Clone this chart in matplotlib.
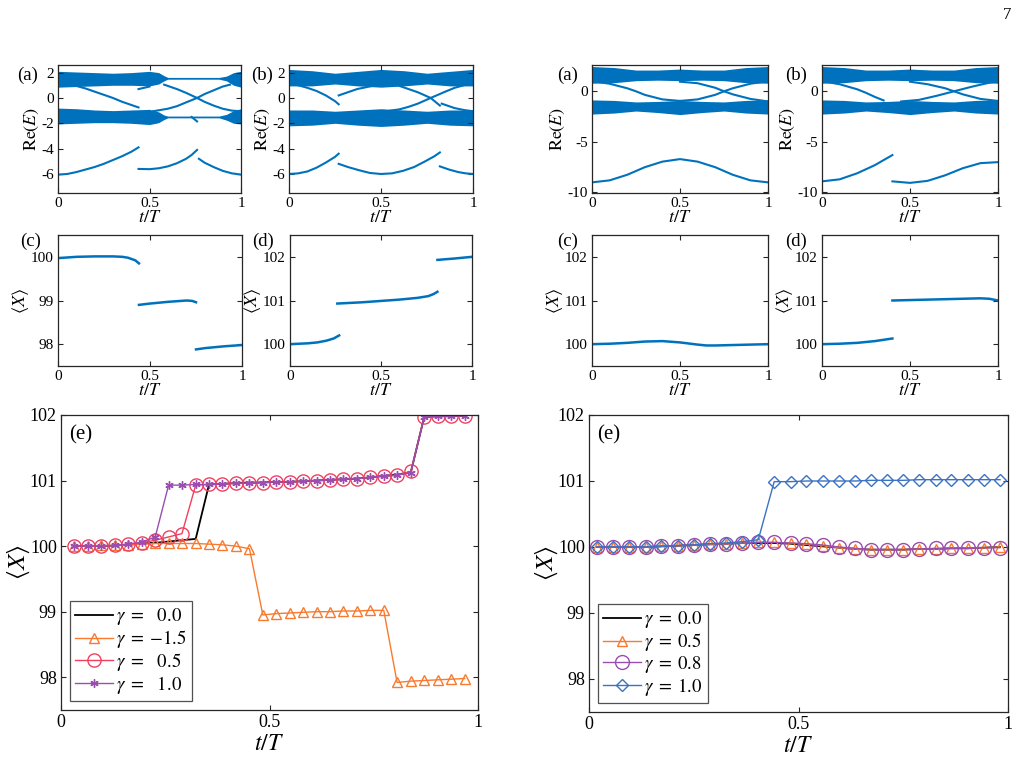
import numpy as np
import matplotlib
matplotlib.use('Agg')
import matplotlib.pyplot as plt

plt.rcParams['font.family'] = 'serif'
plt.rcParams['font.serif'] = ['Liberation Serif', 'DejaVu Serif']
plt.rcParams['mathtext.fontset'] = 'stix'
plt.rcParams['axes.unicode_minus'] = False
plt.rcParams['axes.edgecolor'] = '#262626'

W, H = 1026, 769
BLUE = '#0072BD'

# ---------------- left column, Re(E) (a) ----------------
la_t = [0, 0.1, 0.2, 0.3, 0.4, 0.5, 0.55, 0.58, 0.6, 0.7, 0.8, 0.88, 0.92, 0.96, 1.0]
la_up_top = [2.1, 2.05, 2.0, 1.95, 2.0, 2.1, 2.0, 1.75, 1.62, 1.62, 1.62, 1.62, 1.72, 2.0, 2.1]
la_up_bot = [0.85, 0.9, 0.95, 1.0, 1.0, 0.95, 1.1, 1.35, 1.48, 1.48, 1.48, 1.48, 1.35, 1.0, 0.85]
la_lo_top = [-0.8, -0.85, -0.95, -1.0, -0.95, -0.9, -1.1, -1.35, -1.43, -1.43, -1.43, -1.43, -1.3, -1.0, -0.85]
la_lo_bot = [-2.05, -2.0, -1.95, -1.95, -2.0, -2.1, -1.95, -1.7, -1.57, -1.57, -1.57, -1.57, -1.75, -2.0, -2.05]
la_curves = [
    ([0.1, 0.15, 0.2, 0.25, 0.3, 0.35, 0.4, 0.44], [0.95, 0.75, 0.5, 0.25, 0.0, -0.3, -0.55, -0.75]),
    ([0.44, 0.47, 0.5], [0.7, 0.8, 0.9]),
    ([0.52, 0.6, 0.65, 0.7, 0.76, 0.8, 0.85, 0.9, 0.94], [-1.05, -0.85, -0.65, -0.35, 0.0, 0.3, 0.6, 0.9, 1.05]),
    ([0.58, 0.65, 0.7, 0.76, 0.8, 0.85, 0.9, 0.95, 1.0], [1.05, 0.7, 0.4, 0.0, -0.3, -0.6, -0.85, -1.0, -1.05]),
    ([0.73, 0.76], [-1.5, -1.85]),
    ([0, 0.05, 0.1, 0.15, 0.2, 0.25, 0.3, 0.35, 0.4, 0.44], [-6.05, -6.0, -5.85, -5.65, -5.45, -5.2, -4.9, -4.6, -4.25, -3.9]),
    ([0.44, 0.5, 0.55, 0.6, 0.65, 0.7, 0.73, 0.76], [-5.6, -5.62, -5.55, -5.4, -5.15, -4.8, -4.5, -4.1]),
    ([0.77, 0.8, 0.85, 0.9, 0.95, 1.0], [-4.8, -5.1, -5.45, -5.75, -5.95, -6.05]),
]

# ---------------- left column, Re(E) (b) ----------------
lb_t = [0, 0.125, 0.25, 0.375, 0.5, 0.625, 0.75, 0.875, 1.0]
lb_up_top = [2.25, 2.15, 1.95, 2.1, 2.25, 2.15, 1.95, 2.1, 2.25]
lb_up_bot = [0.95, 0.95, 1.1, 0.95, 0.85, 0.95, 1.1, 0.95, 0.95]
lb_lo_top = [-0.95, -0.95, -1.05, -0.95, -0.85, -0.95, -1.05, -0.95, -0.95]
lb_lo_bot = [-2.2, -2.15, -2.0, -2.15, -2.25, -2.15, -2.0, -2.15, -2.2]
lb_curves = [
    ([0.05, 0.1, 0.15, 0.2, 0.25, 0.27], [1.0, 0.8, 0.55, 0.2, -0.25, -0.5]),
    ([0.27, 0.32, 0.37, 0.42, 0.47], [0.2, 0.45, 0.7, 0.85, 1.0]),
    ([0.55, 0.6, 0.65, 0.7, 0.77, 0.85, 0.9, 0.95], [-1.0, -0.9, -0.7, -0.45, 0.0, 0.5, 0.8, 1.0]),
    ([0.6, 0.65, 0.7, 0.77, 0.82], [0.95, 0.7, 0.45, 0.0, -0.6]),
    ([0.83, 0.9, 0.95, 1.0], [-0.45, -0.8, -0.95, -1.05]),
    ([0, 0.05, 0.1, 0.15, 0.2, 0.25, 0.27], [-6.0, -5.95, -5.8, -5.5, -5.1, -4.65, -4.4]),
    ([0.27, 0.32, 0.38, 0.44, 0.5, 0.56, 0.62, 0.68, 0.74, 0.79, 0.82], [-5.2, -5.45, -5.7, -5.92, -6.0, -5.95, -5.75, -5.45, -5.0, -4.6, -4.3]),
    ([0.82, 0.87, 0.92, 0.96, 1.0], [-5.4, -5.65, -5.85, -5.95, -6.0]),
]

# ---------------- right column, Re(E) (a) and (b) ----------------
r_t = [0, 0.125, 0.25, 0.375, 0.5, 0.625, 0.75, 0.875, 1.0]
r_up_top = [2.45, 2.35, 2.1, 2.1, 2.2, 2.1, 2.1, 2.35, 2.45]
r_up_bot = [0.8, 0.85, 1.05, 1.1, 1.05, 1.1, 1.05, 0.85, 0.8]
r_lo_top = [-0.85, -0.9, -1.05, -1.0, -0.9, -1.0, -1.05, -0.9, -0.85]
r_lo_bot = [-2.25, -2.15, -1.95, -2.1, -2.3, -2.1, -1.95, -2.15, -2.25]
ra_curves = [
    ([0, 0.1, 0.2, 0.25, 0.3, 0.4, 0.5], [1.0, 0.75, 0.3, 0.0, -0.35, -0.8, -0.95]),
    ([0.5, 0.6, 0.7, 0.75, 0.8, 0.9, 1.0], [-0.95, -0.8, -0.35, 0.0, 0.3, 0.75, 1.0]),
    ([0.5, 0.6, 0.7, 0.75, 0.8, 0.9, 1.0], [0.95, 0.8, 0.35, 0.0, -0.3, -0.75, -1.0]),
    ([0, 0.1, 0.2, 0.3, 0.4, 0.5, 0.6, 0.7, 0.8, 0.9, 1.0], [-9.0, -8.8, -8.25, -7.5, -6.95, -6.7, -6.95, -7.5, -8.25, -8.8, -9.0]),
]
rb_curves = [
    ([0, 0.1, 0.2, 0.25, 0.3, 0.35], [1.0, 0.7, 0.2, -0.15, -0.55, -0.9]),
    ([0.45, 0.55, 0.65, 0.75, 0.85, 0.95, 1.0], [-1.0, -0.85, -0.45, 0.0, 0.45, 0.85, 1.0]),
    ([0.5, 0.6, 0.7, 0.75, 0.8, 0.9, 1.0], [0.95, 0.7, 0.3, 0.0, -0.3, -0.75, -0.95]),
    ([0, 0.1, 0.2, 0.3, 0.4], [-8.9, -8.7, -8.1, -7.3, -6.3]),
    ([0.4, 0.5, 0.6, 0.7, 0.8, 0.9, 1.0], [-8.9, -9.05, -8.85, -8.3, -7.6, -7.1, -7.0]),
]

# ---------------- <X> panels (c), (d) ----------------
lc_segs = [
    ([0, 0.1, 0.2, 0.3, 0.35, 0.38, 0.42, 0.44], [99.97, 100.0, 100.01, 100.01, 100.0, 99.98, 99.92, 99.85]),
    ([0.44, 0.5, 0.6, 0.7, 0.73, 0.75], [98.9, 98.93, 98.97, 99.0, 98.99, 98.96]),
    ([0.75, 0.8, 0.9, 1.0], [97.88, 97.91, 97.95, 97.98]),
]
ld_segs = [
    ([0, 0.1, 0.15, 0.2, 0.24, 0.27], [100.0, 100.02, 100.04, 100.08, 100.13, 100.2]),
    ([0.26, 0.4, 0.5, 0.6, 0.7, 0.76, 0.79, 0.81], [100.93, 100.96, 100.99, 101.02, 101.06, 101.1, 101.15, 101.2]),
    ([0.81, 0.9, 1.0], [101.93, 101.96, 102.0]),
]
rc_segs = [
    ([0, 0.1, 0.2, 0.3, 0.4, 0.5, 0.6, 0.65, 0.7, 0.8, 0.9, 1.0],
     [100.0, 100.01, 100.03, 100.06, 100.07, 100.04, 99.99, 99.97, 99.97, 99.98, 99.99, 100.0]),
]
rd_segs = [
    ([0, 0.1, 0.2, 0.3, 0.4], [100.0, 100.01, 100.03, 100.07, 100.13]),
    ([0.4, 0.5, 0.6, 0.7, 0.8, 0.9, 0.95, 1.0], [101.0, 101.01, 101.02, 101.03, 101.04, 101.05, 101.04, 101.0]),
]

# ---------------- (e) left ----------------
te_left = [0.032, 0.065, 0.097, 0.129, 0.161, 0.194, 0.226, 0.258, 0.290, 0.323,
           0.355, 0.387, 0.419, 0.452, 0.484, 0.516, 0.548, 0.581, 0.613, 0.645,
           0.677, 0.710, 0.742, 0.774, 0.806, 0.839, 0.871, 0.903, 0.935, 0.968]
xl_g00 = [100.0, 100.0, 100.0, 100.01, 100.02, 100.04, 100.05, 100.07, 100.09, 100.11,
          100.94, 100.95, 100.96, 100.97, 100.97, 100.98, 100.98, 100.99, 101.0, 101.01,
          101.02, 101.03, 101.05, 101.07, 101.09, 101.13, 101.97, 101.98, 101.98, 101.99]
xl_gm15 = [100.0, 100.0, 100.01, 100.01, 100.02, 100.03, 100.04, 100.04, 100.04, 100.04,
           100.03, 100.02, 100.0, 99.96, 98.95, 98.97, 98.98, 98.99, 99.0, 99.0,
           99.01, 99.01, 99.02, 99.02, 97.92, 97.94, 97.95, 97.96, 97.97, 97.98]
xl_g05 = [100.0, 100.0, 100.0, 100.01, 100.03, 100.05, 100.09, 100.14, 100.19, 100.93,
          100.94, 100.95, 100.96, 100.96, 100.97, 100.98, 100.98, 100.99, 101.0, 101.01,
          101.02, 101.03, 101.05, 101.07, 101.08, 101.14, 101.97, 101.98, 101.98, 101.99]
xl_g10 = [100.0, 100.0, 100.0, 100.01, 100.03, 100.06, 100.14, 100.93, 100.93, 100.94,
          100.94, 100.95, 100.96, 100.96, 100.97, 100.98, 100.98, 100.99, 101.0, 101.01,
          101.02, 101.03, 101.05, 101.07, 101.08, 101.12, 101.97, 101.98, 101.98, 101.99]

# ---------------- (e) right ----------------
te_right = [0.019, 0.058, 0.096, 0.135, 0.173, 0.212, 0.250, 0.288, 0.327, 0.365,
            0.404, 0.442, 0.481, 0.519, 0.558, 0.596, 0.635, 0.673, 0.712, 0.750,
            0.788, 0.827, 0.865, 0.904, 0.942, 0.981]
xr_g00 = [100.0, 100.0, 100.0, 100.0, 100.01, 100.02, 100.03, 100.04, 100.05, 100.06,
          100.06, 100.06, 100.05, 100.03, 100.01, 99.99, 99.97, 99.96, 99.96, 99.96,
          99.97, 99.97, 99.98, 99.98, 99.99, 100.0]
xr_g05 = [100.0, 100.0, 100.0, 100.0, 100.01, 100.02, 100.03, 100.04, 100.05, 100.06,
          100.07, 100.07, 100.06, 100.04, 100.02, 99.99, 99.97, 99.96, 99.96, 99.96,
          99.97, 99.97, 99.98, 99.98, 99.99, 100.0]
xr_g08 = [100.0, 100.0, 100.0, 100.0, 100.01, 100.02, 100.03, 100.05, 100.05, 100.06,
          100.07, 100.07, 100.06, 100.05, 100.03, 100.0, 99.98, 99.96, 99.96, 99.96,
          99.97, 99.98, 99.98, 99.98, 99.99, 99.99]
xr_g10 = [100.0, 100.0, 100.0, 100.0, 100.01, 100.02, 100.03, 100.05, 100.06, 100.08,
          100.11, 100.99, 100.99, 101.0, 101.0, 101.0, 101.0, 101.01, 101.01, 101.01,
          101.02, 101.02, 101.02, 101.02, 101.02, 101.02]

fig = plt.figure(figsize=(W / 100, H / 100), dpi=100)


def box(l, t, r, b):
    return fig.add_axes([l / W, 1 - b / H, (r - l) / W, (b - t) / H])


def style(ax, fs=11):
    ax.tick_params(direction='in', top=True, right=True, length=3.5, width=0.8,
                   labelsize=fs, pad=3, color='#262626')
    for s in ax.spines.values():
        s.set_linewidth(0.9)


def label(x, y, s, fs=13.5):
    fig.text(x / W, 1 - y / H, s, fontsize=fs, ha='left', va='center')


def energy_panel(ax, t, ut, ub, lt, lb, curves, ylim, yticks):
    ax.fill_between(t, ub, ut, color=BLUE, lw=0)
    ax.fill_between(t, lb, lt, color=BLUE, lw=0)
    for ct, ce in curves:
        ax.plot(ct, ce, color=BLUE, lw=1.5)
    ax.set_xlim(0, 1)
    ax.set_ylim(*ylim)
    ax.set_xticks([0, 0.5, 1])
    ax.set_xticklabels(['0', '0.5', '1'])
    ax.set_yticks(yticks)
    ax.set_xlabel(r'$t/T$', fontsize=13, labelpad=-1)
    ax.set_ylabel(r'$\mathrm{Re}(E)$', fontsize=13, labelpad=0)
    style(ax)


def x_panel(ax, segs, ylim, yticks):
    for ct, cx in segs:
        ax.plot(ct, cx, color=BLUE, lw=1.8)
    ax.set_xlim(0, 1)
    ax.set_ylim(*ylim)
    ax.set_xticks([0, 0.5, 1])
    ax.set_xticklabels(['0', '0.5', '1'])
    ax.set_yticks(yticks)
    ax.set_xlabel(r'$t/T$', fontsize=13, labelpad=-1)
    ax.set_ylabel(r'$\langle X\rangle$', fontsize=13, labelpad=0)
    style(ax)


def big_panel(ax):
    ax.set_xlim(0, 1)
    ax.set_ylim(97.5, 102)
    ax.set_xticks([0, 0.5, 1])
    ax.set_xticklabels(['0', '0.5', '1'])
    ax.set_yticks([98, 99, 100, 101, 102])
    ax.set_xlabel(r'$t/T$', fontsize=17, labelpad=2)
    ax.set_ylabel(r'$\langle X\rangle$', fontsize=18, labelpad=-2)
    style(ax, 13)
    leg = ax.legend(loc='lower left', fontsize=13.5, frameon=True, fancybox=False, edgecolor='#262626',
                    handlelength=2.0, handletextpad=0.2, labelspacing=0.05, borderpad=0.25,
                    borderaxespad=0.5)
    leg.get_frame().set_linewidth(0.9)


# top row
ax = box(58, 65, 241, 193)
energy_panel(ax, la_t, la_up_top, la_up_bot, la_lo_top, la_lo_bot, la_curves, (-7.5, 2.6), [-6, -4, -2, 0, 2])
ax = box(289, 65, 473, 193)
energy_panel(ax, lb_t, lb_up_top, lb_up_bot, lb_lo_top, lb_lo_bot, lb_curves, (-7.5, 2.6), [-6, -4, -2, 0, 2])
ax = box(592, 65, 768, 193)
energy_panel(ax, r_t, r_up_top, r_up_bot, r_lo_top, r_lo_bot, ra_curves, (-10.05, 2.6), [-10, -5, 0])
ax = box(822, 65, 998, 193)
energy_panel(ax, r_t, r_up_top, r_up_bot, r_lo_top, r_lo_bot, rb_curves, (-10.05, 2.6), [-10, -5, 0])

# second row
ax = box(58, 235, 242, 366)
x_panel(ax, lc_segs, (97.5, 100.5), [98, 99, 100])
ax = box(290, 235, 472, 366)
x_panel(ax, ld_segs, (99.5, 102.5), [100, 101, 102])
ax = box(592, 235, 768, 366)
x_panel(ax, rc_segs, (99.5, 102.5), [100, 101, 102])
ax = box(822, 235, 998, 366)
x_panel(ax, rd_segs, (99.5, 102.5), [100, 101, 102])

# (e) left
ax = box(61, 415, 478, 710)
ax.plot(te_left, xl_g00, color='black', lw=1.3, label=r'$\gamma \;=\;\;\; 0.0$')
ax.plot(te_left, xl_gm15, color='#F97A2E', lw=1.0, marker='^', ms=7, mfc='none', mew=1.0,
        label=r'$\gamma \;=\; {-1.5}$')
ax.plot(te_left, xl_g05, color='#F0405F', lw=1.0, marker='o', ms=9.5, mfc='none', mew=1.0,
        label=r'$\gamma \;=\;\;\; 0.5$')
ax.plot(te_left, xl_g10, color='#9B4DB0', lw=1.0, marker=(6, 2, 0), ms=6, mew=1.0,
        label=r'$\gamma \;=\;\;\; 1.0$')
big_panel(ax)

# (e) right
ax = box(589, 415, 1008, 712)
ax.plot(te_right, xr_g00, color='black', lw=1.3, label=r'$\gamma \;=\; 0.0$')
ax.plot(te_right, xr_g05, color='#F97A2E', lw=1.0, marker='^', ms=7, mfc='none', mew=1.0,
        label=r'$\gamma \;=\; 0.5$')
ax.plot(te_right, xr_g08, color='#9B4DB0', lw=1.0, marker='o', ms=10, mfc='none', mew=1.0,
        label=r'$\gamma \;=\; 0.8$')
ax.plot(te_right, xr_g10, color='#3D72C2', lw=1.0, marker='D', ms=6.5, mfc='none', mew=1.0,
        label=r'$\gamma \;=\; 1.0$')
big_panel(ax)

# panel labels
label(17, 75, '(a)')
label(251, 75, '(b)')
label(557, 75, '(a)')
label(785, 75, '(b)')
label(20, 241, '(c)')
label(252, 241, '(d)')
label(557, 241, '(c)')
label(785, 241, '(d)')
label(69, 435, '(e)', 15)
label(597, 435, '(e)', 15)
fig.text(1007 / W, 1 - 15 / H, '7', fontsize=12, ha='center', va='center')

fig.savefig('out.png', dpi=100)
